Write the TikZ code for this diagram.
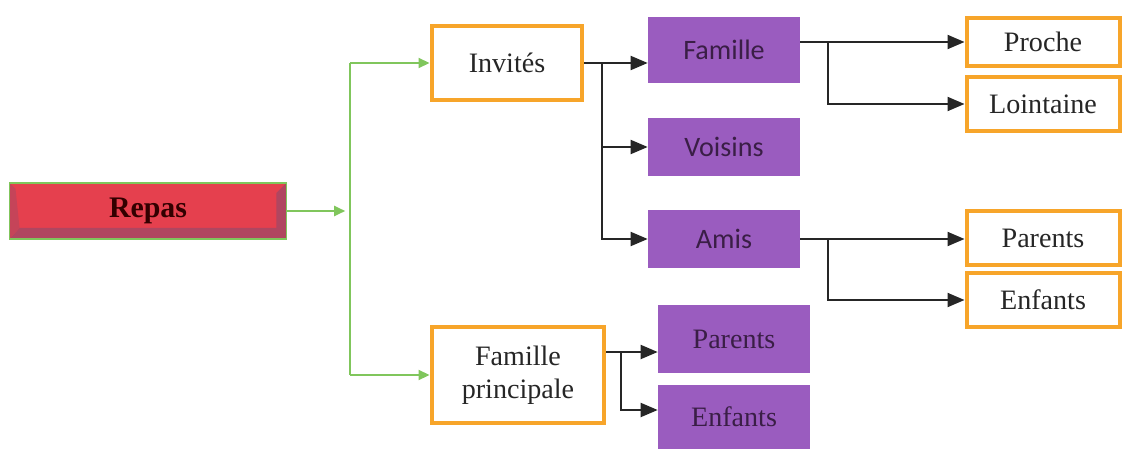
\documentclass[tikz,border=0pt]{standalone}
\usepackage{fontspec}
\setmainfont{Liberation Serif}
\newfontfamily\calfont{Carlito}
\usetikzlibrary{arrows.meta, positioning}
\definecolor{redbox}{HTML}{E5404E}
\definecolor{redshade}{HTML}{B04660}
\definecolor{purplebox}{HTML}{9A5CBF}
\definecolor{purpletext}{HTML}{3A1E46}
\definecolor{orangeline}{HTML}{F7A52A}
\definecolor{greenline}{HTML}{80C65C}
\tikzstyle{every node}=[font=\fontsize{16}{19}\selectfont, text=black!85, inner sep=0pt, align=center]
\tikzstyle{leaf}=[draw=orangeline, line width=.08cm, fill=white, rectangle]
\tikzstyle{cat}=[fill=purplebox, rectangle, text=purpletext, minimum width=3.04cm]
\tikzstyle{arr}=[draw=black!85, line width=.04cm, -{Triangle[length=.34cm,width=.28cm]}]
\tikzstyle{garr}=[draw=greenline, line width=.04cm, -{Triangle[length=.22cm,width=.2cm]}]

\begin{document}
\begin{tikzpicture}[x=.02cm, y=-.02cm]
    \useasboundingbox (0,0) rectangle (1125,449);
    \node[rectangle, fill=redbox, draw=greenline, line width=.03cm,
          minimum width=5.54cm, minimum height=1.12cm, font=\fontsize{17}{20}\selectfont\bfseries,
          text=black!80!red,
          path picture={\fill[redshade] (path picture bounding box.south west)
              -- (path picture bounding box.south east) -- (path picture bounding box.north east)
              -- ([shift={(-.2cm,-.2cm)}]path picture bounding box.north east)
              -- ([shift={(-.2cm,.22cm)}]path picture bounding box.south east)
              -- ([shift={(.2cm,.22cm)}]path picture bounding box.south west) -- cycle;
              \fill[redshade!60!redbox] (path picture bounding box.south west)
              -- (path picture bounding box.north west)
              -- ([shift={(.12cm,-.12cm)}]path picture bounding box.north west)
              -- ([shift={(.2cm,.22cm)}]path picture bounding box.south west) -- cycle;}]
        (repas) at (148,211) {Repas};
    \node[leaf, minimum width=3.02cm, minimum height=1.48cm] (inv) at (507,63) {Invités};
    \node[leaf, minimum width=3.46cm, minimum height=1.92cm] (fp) at (518,375) {Famille\\principale};
    \node[cat, minimum height=1.32cm, font=\fontsize{16}{19}\calfont] (fam) at (724,50) {Famille};
    \node[cat, minimum height=1.16cm, font=\fontsize{16}{19}\calfont] (voi) at (724,147) {Voisins};
    \node[cat, minimum height=1.16cm, font=\fontsize{16}{19}\calfont] (ami) at (724,239) {Amis};
    \node[cat, minimum height=1.36cm] (par1) at (734,339) {Parents};
    \node[cat, minimum height=1.28cm] (enf1) at (734,417) {Enfants};
    \node[leaf, minimum width=3.06cm, minimum height=.96cm] (pro) at (1043,42) {Proche};
    \node[leaf, minimum width=3.06cm, minimum height=1.08cm] (loi) at (1043,104) {Lointaine};
    \node[leaf, minimum width=3.06cm, minimum height=1.1cm] (par2) at (1043,238) {Parents};
    \node[leaf, minimum width=3.06cm, minimum height=1.1cm] (enf2) at (1043,300) {Enfants};
    \coordinate (g) at ([xshift=1.26cm]repas.east);
    \draw[garr] (repas.east) -- ([xshift=-.1cm]g);
    \draw[greenline, line width=.04cm] (g |- inv) -- (g |- fp);
    \draw[garr] (g |- inv) -- (inv.west);
    \draw[garr] (g |- fp) -- (fp.west);
    \coordinate (j1) at ([xshift=.36cm]inv.east);
    \draw[arr] (inv.east) -- (inv.east -| fam.west);
    \draw[arr] (j1) |- (voi.west);
    \draw[arr] (j1) |- (ami.west);
    \coordinate (j2) at ([xshift=.56cm]fam.east |- pro);
    \draw[arr] (fam.east |- pro) -- (pro.west);
    \draw[arr] (j2) |- (loi.west);
    \coordinate (j3) at ([xshift=.56cm]ami.east);
    \draw[arr] (ami.east) -- (ami.east -| par2.west);
    \draw[arr] (j3) |- (enf2.west);
    \coordinate (j4) at ([yshift=.46cm]fp.east);
    \draw[arr] (j4) -- (j4 -| par1.west);
    \draw[arr] ([xshift=.3cm]j4) |- ([yshift=.14cm]enf1.west);
\end{tikzpicture}
\end{document}
